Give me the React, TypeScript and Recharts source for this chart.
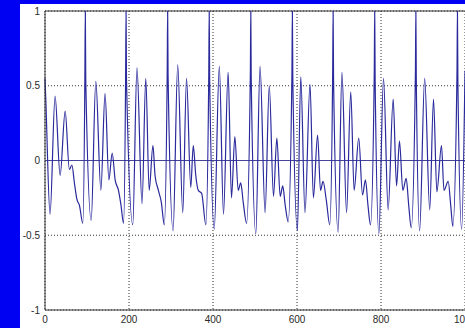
import {
  CartesianGrid,
  Line,
  LineChart,
  ReferenceLine,
  XAxis,
  YAxis,
} from "recharts";

// sample index of each read-off turning point
const sampleIdx = [
  0, 2, 12, 24, 36, 48, 58, 64, 70, 76, 82, 90, 95, 96, 97,
  110, 121, 133, 143, 152, 160, 167, 175, 181, 187, 192, 193, 194,
  209, 219, 231, 240, 248, 257, 262, 270, 277, 284, 291, 292, 293,
  305, 316, 328, 337, 347, 353, 359, 365, 373, 383, 390, 391, 392,
  403, 415, 425, 436, 444, 452, 460, 466, 472, 480, 489, 490, 491,
  502, 512, 524, 534, 544, 552, 560, 566, 572, 579, 588, 589, 590,
  601, 609, 619, 631, 639, 649, 656, 662, 670, 678, 685, 686, 687,
  698, 707, 718, 728, 736, 747, 756, 763, 769, 775, 784, 785, 786,
  795, 806, 817, 829, 837, 844, 852, 860, 866, 872, 882, 883, 884,
  892, 904, 916, 925, 933, 944, 950, 960, 966, 971, 981, 982, 983,
  992, 1000,
];

const amplitude = [
  0.55, 0.4, -0.36, 0.43, -0.1, 0.33, -0.06, -0.03, -0.15, -0.26, -0.3, -0.42, 0.58, 1, 0.55,
  -0.4, 0.53, -0.2, 0.45, -0.13, 0.05, -0.13, -0.2, -0.3, -0.42, 0.58, 1, 0.55,
  -0.43, 0.62, -0.29, 0.55, -0.2, 0.1, -0.1, -0.2, -0.28, -0.43, 0.6, 1, 0.58,
  -0.47, 0.64, -0.35, 0.55, -0.18, 0.1, -0.1, -0.2, -0.22, -0.43, 0.6, 1, 0.55,
  -0.46, 0.63, -0.36, 0.59, -0.25, 0.16, -0.2, -0.15, -0.28, -0.42, 0.6, 1, 0.55,
  -0.49, 0.63, -0.35, 0.5, -0.24, 0.15, -0.24, -0.17, -0.3, -0.41, 0.6, 1, 0.55,
  -0.47, 0.56, -0.35, 0.51, -0.25, 0.17, -0.2, -0.14, -0.27, -0.43, 0.6, 1, 0.55,
  -0.48, 0.59, -0.35, 0.46, -0.2, 0.15, -0.23, -0.13, -0.3, -0.43, 0.6, 1, 0.55,
  -0.49, 0.55, -0.33, 0.41, -0.17, 0.13, -0.2, -0.12, -0.3, -0.45, 0.6, 1, 0.55,
  -0.47, 0.55, -0.33, 0.41, -0.21, 0.1, -0.2, -0.14, -0.3, -0.44, 0.6, 1, 0.55,
  -0.46, 0.6,
];

const xTicks = [0, 200, 400, 600, 800, 1000];
const yTicks = [-1, -0.5, 0, 0.5, 1];

const data = sampleIdx.map((t, i) => ({ t, v: amplitude[i] }));

const tickStyle = { fontFamily: "Liberation Sans, Arial", fontSize: 10, fill: "#2a2a2a" };

export default function App() {
  return (
    <div
      style={{
        position: "fixed",
        left: 0,
        top: 0,
        width: 465,
        height: 328,
        overflow: "hidden",
        background: "#0000f2",
      }}
    >
      <div
        style={{
          position: "absolute",
          left: 20,
          top: 4,
          right: 0,
          bottom: 0,
          background: "#fff",
        }}
      />
      <div style={{ position: "absolute", left: 0, top: 0 }}>
        <LineChart
          width={480}
          height={328}
          data={data}
          margin={{ top: 11, right: 15, left: 0, bottom: 0 }}
        >
          <CartesianGrid stroke="#333" strokeDasharray="1 2" />
          <XAxis
            dataKey="t"
            type="number"
            domain={[0, 1000]}
            ticks={xTicks}
            height={18}
            tickSize={0}
            tickMargin={6}
            tick={tickStyle}
            axisLine={{ stroke: "#333" }}
            interval={0}
          />
          <YAxis
            type="number"
            domain={[-1, 1]}
            ticks={yTicks}
            width={45}
            tickSize={0}
            tickMargin={5}
            tick={tickStyle}
            axisLine={{ stroke: "#333" }}
            allowDataOverflow
            interval={0}
          />
          <ReferenceLine y={1} stroke="#333" />
          <ReferenceLine y={0} stroke="#45459a" />
          <Line
            type="monotone"
            dataKey="v"
            stroke="#2a2a9c"
            strokeWidth={1.2}
            dot={false}
            isAnimationActive={false}
          />
        </LineChart>
      </div>
    </div>
  );
}
